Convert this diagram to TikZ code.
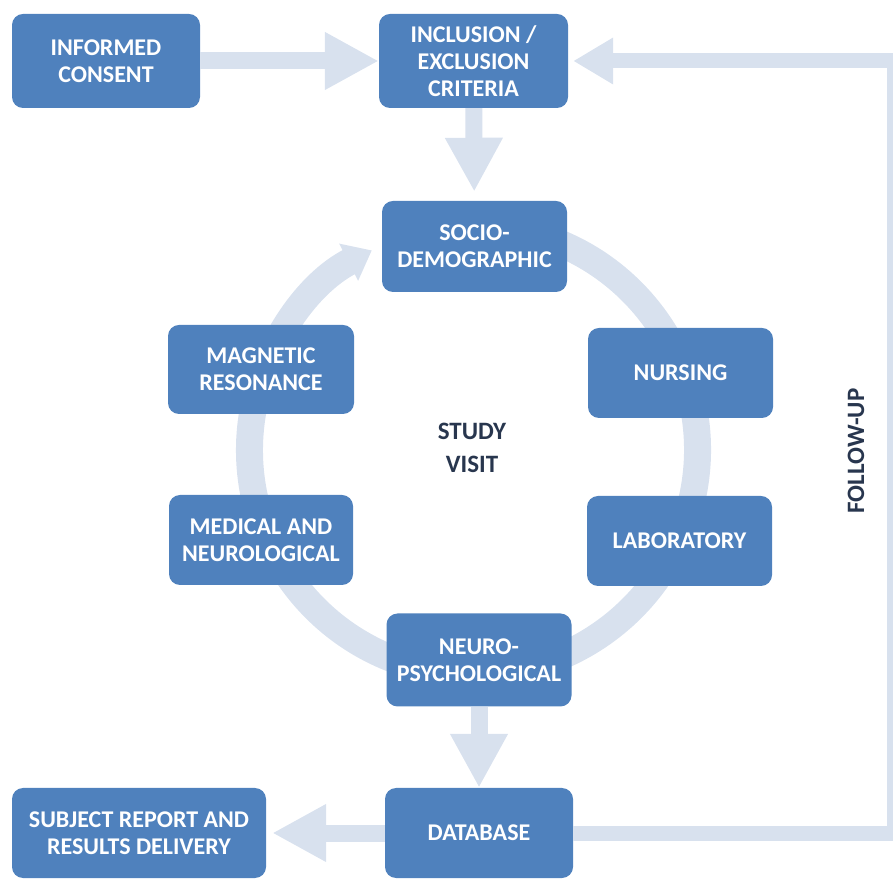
\documentclass[tikz,border=0pt]{standalone}
\usepackage{fontspec}
\setmainfont{Carlito}
\usepackage{tikz}
\usetikzlibrary{arrows.meta,positioning}
\usetikzlibrary{calc}
\definecolor{boxblue}{RGB}{79,129,189}
\definecolor{arrowblue}{RGB}{216,225,238}
\definecolor{labeldark}{RGB}{40,54,78}

\begin{document}
\begin{tikzpicture}[
  x=1pt, y=1pt,
  box/.style={fill=boxblue, rounded corners=11pt, align=center, text=white, font=\bfseries\fontsize{24}{27}\selectfont, minimum height=90pt, inner sep=2pt},
  arr/.style={draw=arrowblue, line width=17pt, -{Triangle[width=54pt,length=54pt]}},
  ring/.style={draw=arrowblue, line width=27pt, -{Triangle[width=40pt,length=26pt]}},
  hubtext/.style={text=labeldark, font=\bfseries\fontsize{25}{33}\selectfont, align=center}
]
  \useasboundingbox (0,0) rectangle (893,880);
  \clip (0,0) rectangle (893,880);

  % cycle ring (under the boxes)
  \coordinate (hub) at (473.5,430);
  \draw[ring] (hub) ++(80:224) arc[start angle=80, end angle=-243, radius=224];

  % 1st row
  \node[box, minimum width=188pt, minimum height=94pt] (consent) at (106,819) {INFORMED\\CONSENT};
  \node[box, minimum width=189pt, minimum height=94pt] (incl) at (473.5,819) {INCLUSION /\\EXCLUSION\\CRITERIA};

  % study visit
  \node[hubtext] (visit) at (472,432) {STUDY\\VISIT};
  \node[box, minimum width=185pt, minimum height=91pt] (socio) at (474.5,633.5) {SOCIO-\\DEMOGRAPHIC};
  \node[box, minimum width=185pt] (nursing) at (680.5,507) {NURSING};
  \node[box, minimum width=185pt] (lab) at (679.5,339) {LABORATORY};
  \node[box, minimum width=185pt, minimum height=93pt] (neuro) at (479,220) {NEURO-\\PSYCHOLOGICAL};
  \node[box, minimum width=184pt] (medical) at (261,340) {MEDICAL AND\\NEUROLOGICAL};
  \node[box, minimum width=186pt, minimum height=89pt] (magnetic) at (261,510.5) {MAGNETIC\\RESONANCE};

  % last row
  \node[box, minimum width=188pt] (db) at (479,47) {DATABASE};
  \node[box, minimum width=254pt] (report) at (139,47) {SUBJECT REPORT AND\\RESULTS DELIVERY};

  \node[hubtext, rotate=90] (follow) at (856,429) {FOLLOW-UP};
  \coordinate (fu) at (894,0);

  \draw[arr] (consent) -- (incl);
  \draw[arr, shorten >=9pt] (incl) -- (socio);
  \draw[arr] (neuro) -- (db);
  \draw[arr, shorten >=6pt] (db) -- (report);

  \draw[arr, line width=15pt, -{Triangle[width=44pt,length=40pt]}, line join=miter, shorten >=5pt]
    (db.east) -- (db.east -| fu) |- (incl.east);
\end{tikzpicture}
\end{document}
